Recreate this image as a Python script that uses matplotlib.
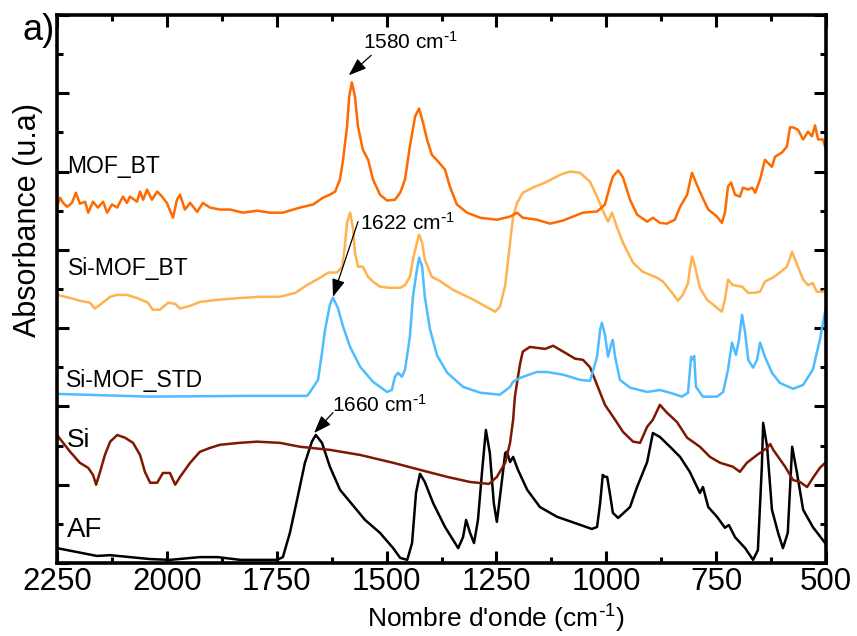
"""FTIR spectra of AF, Si and the MOF samples (panel a)."""
import matplotlib

matplotlib.use("Agg")
import matplotlib.pyplot as plt
from matplotlib.ticker import MultipleLocator

plt.rcParams["font.family"] = ["Liberation Sans", "DejaVu Sans"]
plt.rcParams["mathtext.default"] = "regular"

# --- spectra (wavenumber in cm-1, offset absorbance in a.u.) ---
af_wn = [2250, 2159, 2129, 2038, 1993, 1925, 1884, 1833, 1749, 1736, 1720, 1704, 1686,
         1670, 1661, 1647, 1629, 1606, 1583, 1549, 1515, 1485, 1469, 1453, 1442, 1433,
         1424, 1413, 1394, 1367, 1337, 1326, 1319, 1310, 1301, 1292, 1283, 1274, 1265,
         1256, 1249, 1240, 1230, 1226, 1219, 1212, 1201, 1180, 1151, 1112, 1071, 1033,
         1021, 1014, 1008, 1003, 998, 992, 985, 973, 946, 930, 907, 894, 878, 855, 832,
         810, 787, 780, 768, 748, 730, 721, 707, 684, 666, 655, 646, 643, 634, 623, 609,
         598, 587, 577, 566, 552, 530, 502]
af_abs = [0.38, 0.18, 0.20, 0.10, 0.08, 0.15, 0.15, 0.08, 0.08, 0.15, 0.77, 1.60, 2.55,
          3.10, 3.27, 3.07, 2.46, 1.87, 1.56, 1.10, 0.77, 0.38, 0.13, 0.08, 0.51, 1.79,
          2.28, 2.07, 1.53, 0.92, 0.38, 0.66, 1.10, 0.77, 0.51, 1.10, 2.30, 3.40, 2.81,
          1.53, 1.05, 1.87, 2.81, 2.84, 2.58, 2.71, 2.38, 1.87, 1.43, 1.18, 1.02, 0.87,
          0.92, 1.53, 2.25, 2.20, 2.20, 1.79, 1.28, 1.15, 1.43, 1.94, 2.58, 3.32, 3.22,
          2.97, 2.71, 2.33, 1.79, 1.94, 1.43, 1.18, 0.90, 0.97, 0.66, 0.38, 0.08, 0.33,
          2.46, 3.58, 2.97, 1.36, 0.77, 0.38, 0.77, 2.97, 2.30, 1.36, 0.92, 0.51]

si_wn = [2250, 2220, 2198, 2179, 2168, 2161, 2152, 2141, 2129, 2113, 2095, 2077, 2061,
         2050, 2038, 2022, 2009, 1993, 1981, 1970, 1947, 1925, 1902, 1879, 1834, 1795,
         1743, 1697, 1629, 1560, 1485, 1424, 1362, 1310, 1267, 1249, 1230, 1219, 1212,
         1208, 1201, 1196, 1190, 1174, 1139, 1121, 1098, 1071, 1053, 1037, 1021, 1003,
         980, 962, 939, 923, 907, 894, 878, 862, 839, 816, 787, 764, 741, 712, 696, 680,
         657, 634, 627, 620, 593, 575, 559, 543, 530, 514, 500]
si_abs = [3.27, 2.84, 2.56, 2.43, 2.25, 2.00, 2.33, 2.76, 3.10, 3.27, 3.20, 3.07, 2.76,
          2.33, 2.05, 2.05, 2.30, 2.30, 2.00, 2.20, 2.56, 2.84, 2.94, 3.02, 3.07, 3.10,
          3.07, 2.97, 2.89, 2.76, 2.56, 2.38, 2.20, 2.07, 2.02, 2.20, 2.56, 3.07, 3.66,
          4.25, 4.76, 5.10, 5.40, 5.52, 5.47, 5.55, 5.40, 5.22, 5.19, 5.00, 4.55, 4.04,
          3.66, 3.35, 3.10, 3.07, 3.48, 3.66, 4.04, 3.84, 3.60, 3.20, 2.97, 2.71, 2.56,
          2.46, 2.33, 2.56, 2.76, 2.94, 3.04, 2.89, 2.46, 2.12, 2.07, 1.94, 2.17, 2.43,
          2.58]

std_wn = [2250, 2038, 1811, 1681, 1674, 1656, 1647, 1640, 1629, 1622, 1611, 1599, 1583,
          1560, 1531, 1499, 1488, 1481, 1474, 1465, 1458, 1447, 1440, 1431, 1426, 1419,
          1413, 1401, 1385, 1362, 1326, 1287, 1242, 1219, 1212, 1196, 1158, 1135, 1098,
          1060, 1037, 1021, 1014, 1010, 1003, 996, 989, 985, 980, 969, 946, 907, 878, 855,
          828, 814, 807, 803, 800, 796, 780, 748, 734, 723, 714, 705, 698, 691, 684, 677,
          666, 657, 650, 639, 623, 605, 575, 552, 530, 514, 500]
std_abs = [4.32, 4.25, 4.27, 4.27, 4.37, 4.68, 5.37, 5.96, 6.60, 6.78, 6.52, 6.04, 5.52,
           5.01, 4.63, 4.37, 4.42, 4.76, 4.86, 4.76, 4.94, 5.78, 6.80, 7.49, 7.80, 7.57,
           6.80, 5.96, 5.30, 4.86, 4.50, 4.35, 4.30, 4.50, 4.63, 4.73, 4.88, 4.88, 4.81,
           4.68, 4.65, 5.27, 5.96, 6.14, 5.83, 5.27, 5.58, 5.70, 5.27, 4.68, 4.48, 4.37,
           4.42, 4.35, 4.25, 4.35, 5.27, 5.20, 5.29, 4.50, 4.25, 4.25, 4.37, 4.94, 5.63,
           5.32, 5.70, 6.34, 5.88, 5.19, 4.99, 5.19, 5.63, 5.27, 4.86, 4.60, 4.45, 4.55,
           4.94, 5.70, 6.55]

sibt_wn = [2250, 2220, 2198, 2175, 2164, 2152, 2129, 2113, 2091, 2068, 2043, 2032, 2016,
           1997, 1981, 1970, 1947, 1925, 1879, 1834, 1788, 1743, 1708, 1681, 1651, 1633,
           1613, 1601, 1595, 1590, 1583, 1576, 1572, 1565, 1554, 1542, 1531, 1515, 1492,
           1469, 1458, 1447, 1440, 1431, 1426, 1419, 1413, 1397, 1378, 1349, 1303, 1253,
           1242, 1230, 1219, 1212, 1203, 1190, 1167, 1135, 1105, 1083, 1060, 1037, 1021,
           1007, 996, 987, 976, 962, 939, 917, 885, 871, 850, 837, 826, 814, 809, 805, 798,
           787, 771, 748, 737, 730, 723, 712, 691, 677, 666, 650, 639, 621, 605, 589, 577,
           564, 552, 541, 530, 521, 507, 500]
sibt_abs = [6.85, 6.77, 6.70, 6.65, 6.50, 6.60, 6.80, 6.85, 6.85, 6.77, 6.65, 6.47, 6.47,
            6.65, 6.62, 6.50, 6.57, 6.67, 6.73, 6.77, 6.80, 6.80, 6.90, 7.10, 7.29, 7.42,
            7.42, 7.57, 8.08, 8.70, 8.95, 8.52, 7.93, 7.57, 7.57, 7.31, 7.19, 7.06, 7.03,
            7.03, 7.10, 7.31, 7.75, 8.18, 8.39, 8.18, 7.75, 7.31, 7.20, 6.98, 6.73, 6.42,
            6.55, 7.10, 8.18, 8.85, 9.20, 9.46, 9.59, 9.74, 9.92, 10.00, 9.97, 9.74, 9.36,
            8.98, 8.72, 8.95, 8.59, 8.18, 7.67, 7.44, 7.29, 7.19, 6.90, 6.70, 6.85, 7.15,
            7.57, 7.83, 7.57, 7.03, 6.73, 6.52, 6.42, 6.73, 7.24, 7.10, 7.06, 6.90, 6.90,
            6.93, 7.19, 7.29, 7.42, 7.57, 7.95, 7.57, 7.24, 7.10, 7.15, 6.93, 6.93, 6.98]

mof_wn = [2250, 2243, 2236, 2227, 2216, 2207, 2198, 2186, 2179, 2168, 2157, 2145, 2136,
          2125, 2113, 2100, 2091, 2084, 2068, 2061, 2054, 2045, 2034, 2022, 2011, 2000,
          1986, 1977, 1970, 1959, 1947, 1931, 1918, 1902, 1879, 1856, 1827, 1795, 1765,
          1736, 1697, 1667, 1645, 1629, 1617, 1606, 1599, 1590, 1585, 1579, 1572, 1565,
          1554, 1542, 1531, 1515, 1499, 1481, 1469, 1458, 1447, 1435, 1426, 1417, 1408,
          1397, 1383, 1367, 1356, 1340, 1317, 1287, 1249, 1219, 1203, 1190, 1158, 1128,
          1098, 1076, 1053, 1021, 1003, 992, 985, 973, 962, 946, 930, 907, 894, 878, 862,
          844, 832, 816, 805, 794, 782, 768, 748, 737, 730, 723, 716, 707, 696, 689, 677,
          668, 661, 650, 639, 632, 623, 616, 600, 589, 582, 575, 564, 552, 541, 532, 525,
          518, 507, 500]
mof_abs = [9.10, 9.33, 9.20, 9.10, 9.20, 9.46, 9.18, 9.23, 8.95, 9.23, 9.08, 9.23, 8.95,
           9.16, 9.08, 9.36, 9.20, 9.36, 9.23, 9.49, 9.28, 9.54, 9.28, 9.49, 9.36, 9.20,
           8.82, 9.28, 9.41, 9.03, 9.20, 8.97, 9.20, 9.08, 9.03, 9.03, 8.95, 9.00, 8.95,
           8.95, 9.08, 9.16, 9.33, 9.41, 9.49, 9.80, 10.30, 11.15, 11.92, 12.28, 11.92,
           11.15, 10.56, 10.30, 9.80, 9.41, 9.26, 9.28, 9.46, 9.80, 10.64, 11.41, 11.61,
           11.25, 10.82, 10.43, 10.26, 10.05, 9.62, 9.16, 8.95, 8.82, 8.77, 8.85, 8.95,
           8.82, 8.77, 8.67, 8.75, 8.85, 8.95, 8.98, 9.16, 9.62, 9.87, 10.03, 9.85, 9.28,
           8.90, 8.72, 8.82, 8.69, 8.67, 8.77, 9.10, 9.41, 9.97, 9.67, 9.36, 9.03, 8.85,
           8.69, 8.95, 9.62, 9.72, 9.41, 9.36, 9.59, 9.54, 9.59, 9.46, 9.80, 10.30, 10.22,
           10.12, 10.38, 10.49, 10.64, 11.13, 11.13, 11.07, 10.82, 11.02, 10.90, 11.18,
           10.82, 10.82, 10.56]

series_names = ["AF", "Si", "Si-MOF_STD", "Si-MOF_BT", "MOF_BT"]
series_colors = ["#000000", "#7E1800", "#4DBDFF", "#FFB24F", "#FF6A00"]
# label anchor (wavenumber, absorbance) and font size
label_pos = [(2227, 0.66), (2227, 2.97), (2229, 4.5), (2226, 7.37), (2227, 9.97)]
label_size = [20, 19, 16.5, 16.5, 16.5]

# peak annotations: text, arrow tip, arrow tail, text anchor
peak_text = ["1580 cm$^{\\text{-}1}$", "1622 cm$^{\\text{-}1}$", "1660 cm$^{\\text{-}1}$"]
peak_tip = [(1586, 12.46), (1622, 6.80), (1665, 3.32)]
peak_tail = [(1535, 12.97), (1565, 8.72), (1622, 3.84)]
peak_text_at = [(1554, 13.13), (1560, 8.52), (1624, 3.86)]

x_ticks = [2250, 2000, 1750, 1500, 1250, 1000, 750, 500]

fig = plt.figure(figsize=(8.57, 6.36), dpi=100)
ax = fig.add_axes([57 / 857, 73 / 636, 769 / 857, 548 / 636])

spectra = [(af_wn, af_abs), (si_wn, si_abs), (std_wn, std_abs),
           (sibt_wn, sibt_abs), (mof_wn, mof_abs)]
for (wn, ab), name, col in zip(spectra, series_names, series_colors):
    ax.plot(wn, ab, color=col, lw=1.8, solid_joinstyle="round")

for name, (lx, ly), fs in zip(series_names, label_pos, label_size):
    ax.text(lx, ly, name, fontsize=fs, ha="left", va="baseline")

for txt, tip, tail, tpos in zip(peak_text, peak_tip, peak_tail, peak_text_at):
    ax.annotate("", xy=tip, xytext=tail,
                arrowprops=dict(arrowstyle="-|>,head_length=0.9,head_width=0.33",
                                color="k", lw=0.9, mutation_scale=12,
                                shrinkA=0, shrinkB=0))
    ax.text(tpos[0], tpos[1], txt, fontsize=15, ha="left", va="baseline")

ax.set_xlim(2250, 500)
ax.set_ylim(0, 14)
ax.set_xticks(x_ticks)
ax.set_xticklabels([str(t) for t in x_ticks])
ax.xaxis.set_minor_locator(MultipleLocator(125))
ax.yaxis.set_major_locator(MultipleLocator(2))
ax.yaxis.set_minor_locator(MultipleLocator(1))
ax.tick_params(which="both", direction="in", top=True, right=True, width=2.2)
ax.tick_params(which="major", length=8.5, labelsize=22.5, pad=3)
ax.tick_params(which="minor", length=4.5)
ax.tick_params(axis="y", labelleft=False)
for sp in ax.spines.values():
    sp.set_linewidth(2.6)

ax.set_xlabel("Nombre d'onde (cm$^{\\text{-}1}$)", fontsize=19)
ax.xaxis.set_label_coords(0.571, -0.0725)
ax.set_ylabel("Absorbance (u.a)", fontsize=22)
ax.yaxis.set_label_coords(-0.018, 0.626)

fig.text(22 / 857, 1 - 40 / 636, "a)", fontsize=26, va="baseline")

fig.savefig("out.png", dpi=100)
plt.close(fig)
